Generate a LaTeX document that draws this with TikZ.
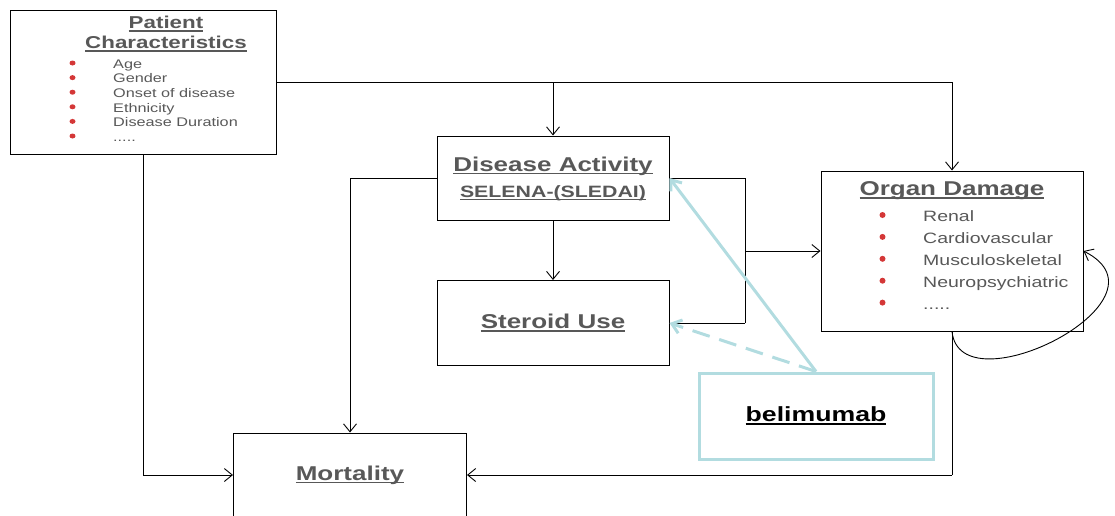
\documentclass[tikz,border=0pt]{standalone}
\usepackage{fontspec}
\setmainfont{Liberation Sans}[FakeStretch=1.3]
\usepackage{tikz}
\usetikzlibrary{arrows.meta}
\usetikzlibrary{positioning}
\definecolor{txtgrey}{RGB}{88,88,88}
\definecolor{dotred}{RGB}{212,55,55}
\definecolor{belteal}{RGB}{178,220,224}
\newcommand{\undl}[1]{\leavevmode\setbox0=\hbox{#1}\rlap{\rule[-3pt]{\wd0}{1.6pt}}\box0}

\begin{document}
\begin{tikzpicture}[x=1pt,y=-1pt,>={Straight Barb[length=8pt,width=13pt]},
		box/.style={rectangle,draw=black,line width=1pt,inner sep=0pt},
		ttl/.style={text=txtgrey,font=\fontsize{20}{24}\selectfont\bfseries},
		lst/.style={text=txtgrey,align=left,inner sep=0pt,anchor=north west},
		tealarr/.style={draw=belteal,line width=3pt,->,>={Straight Barb[length=9pt,width=14pt]}}]
		\useasboundingbox (0,0) rectangle (1115,515);
		
		\node[box,minimum width=266pt,minimum height=144pt] (pc) at (143,82) {};
		\node[box,minimum width=232pt,minimum height=84pt] (da) at (553,178) {};
		\node[box,minimum width=232pt,minimum height=85pt,ttl] (st) at (553,323) {\undl{Steroid Use}};
		\node[box,minimum width=262pt,minimum height=160pt] (od) at (952,251) {};
		\node[box,minimum width=233pt,minimum height=84pt,ttl] (mo) at (350,475) {\undl{Mortality}};
		\node[rectangle,draw=belteal,line width=3pt,minimum width=234pt,minimum height=86pt,
			font=\fontsize{20.5}{24}\selectfont\bfseries] (bel) at (816,416) {\undl{belimumab}};
		
		% box texts
		\node[align=center,text=txtgrey,font=\fontsize{17.2}{20}\selectfont\bfseries] (pctitle) at (166,34)
			{\undl{Patient}\\\undl{Characteristics}};
		\node[lst,font=\fontsize{12.5}{14.6}\selectfont] (pclist) at (113,59.5)
			{Age\\Gender\\Onset of disease\\Ethnicity\\Disease Duration\\.....};
		\node[ttl] (datitle) at (553,166) {\undl{Disease Activity}};
		\node[text=txtgrey,font=\fontsize{16.4}{18}\selectfont\bfseries] (dasub) at (553,193) {\undl{SELENA-(SLEDAI)}};
		\node[ttl] (odtitle) at (952,191) {\undl{Organ Damage}};
		\node[lst,font=\fontsize{15}{21.9}\selectfont] (odlist) at (923,210.5)
			{Renal\\Cardiovascular\\Musculoskeletal\\Neuropsychiatric\\.....};
		
		% red bullets
		\foreach \i in {0,...,5}
			\fill[dotred] (72.5,63+14.6*\i) ellipse (3pt and 2.5pt);
		\foreach \i in {0,...,4}
			\fill[dotred] (882.5,215+21.9*\i) circle (3pt);
		
		\coordinate (jn) at (745,251);
		
		\path[->,line width=0.9pt]
		(pc.east) edge[-] (pc.east -| od.north)
		(pc.east -| od.north) edge (od.north)
		(pc.east -| da.north) edge (da.north)
		(pc.south) edge[-] (pc.south |- mo.west)
		(pc.south |- mo.west) edge (mo.west)
		(da.west) edge[-] (da.west -| mo.north)
		(da.west -| mo.north) edge (mo.north)
		(da.south) edge (st.north)
		(da.east) edge[-] (da.east -| jn)
		(da.east -| jn) edge[-] (st.east -| jn)
		(st.east -| jn) edge[-] (st.east)
		(jn) edge (od.west)
		(od.south) edge[-] (od.south |- mo.east)
		(od.south |- mo.east) edge (mo.east);
		\draw[->,line width=0.9pt] (od.south) .. controls (960,410) and (1180,300) .. (od.east);
		
		\draw[tealarr] (bel.north) -- (da.east);
		\draw[tealarr,dash pattern=on 18pt off 10pt] (bel.north) -- (st.east);
		\end{tikzpicture}
\end{document}
